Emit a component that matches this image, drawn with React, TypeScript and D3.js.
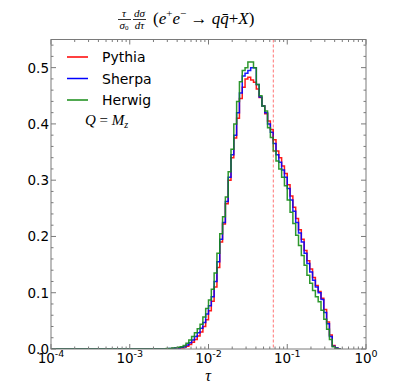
import * as d3 from 'd3';

// histogram binning: log10(tau) from -4 in steps of 1/28
const LOG_MIN = -4;
const BINS_PER_DECADE = 28;
const FIRST_BIN = 40;

// bin contents, starting at bin FIRST_BIN
const pythia = [
  0.000, 0.000, 0.000, 0.001, 0.001, 0.002, 0.002, 0.003, 0.005, 0.008,
  0.012, 0.017, 0.023, 0.030, 0.040, 0.052, 0.068, 0.085, 0.110, 0.145,
  0.190, 0.222, 0.258, 0.300, 0.340, 0.375, 0.410, 0.445, 0.465, 0.480,
  0.483, 0.478, 0.474, 0.462, 0.447, 0.432, 0.418, 0.405, 0.390, 0.372,
  0.352, 0.340, 0.325, 0.312, 0.292, 0.272, 0.252, 0.232, 0.212, 0.195,
  0.175, 0.157, 0.142, 0.127, 0.113, 0.102, 0.090, 0.070, 0.048, 0.025,
  0.006, 0.002, 0.000,
];
const sherpa = [
  0.000, 0.000, 0.001, 0.001, 0.002, 0.002, 0.003, 0.004, 0.007, 0.011,
  0.016, 0.022, 0.029, 0.037, 0.047, 0.062, 0.077, 0.093, 0.120, 0.155,
  0.195, 0.225, 0.262, 0.305, 0.345, 0.380, 0.420, 0.455, 0.485, 0.490,
  0.495, 0.500, 0.500, 0.470, 0.448, 0.432, 0.420, 0.400, 0.385, 0.365,
  0.345, 0.332, 0.318, 0.305, 0.285, 0.265, 0.245, 0.225, 0.206, 0.190,
  0.170, 0.152, 0.137, 0.122, 0.110, 0.100, 0.088, 0.065, 0.045, 0.022,
  0.005, 0.002, 0.000,
];
const herwig = [
  0.000, 0.001, 0.001, 0.002, 0.002, 0.003, 0.004, 0.006, 0.010, 0.016,
  0.022, 0.029, 0.036, 0.044, 0.057, 0.072, 0.087, 0.106, 0.135, 0.170,
  0.205, 0.235, 0.270, 0.315, 0.355, 0.400, 0.440, 0.475, 0.495, 0.500,
  0.510, 0.510, 0.500, 0.470, 0.450, 0.432, 0.423, 0.393, 0.376, 0.352,
  0.334, 0.320, 0.305, 0.290, 0.265, 0.243, 0.223, 0.202, 0.184, 0.166,
  0.149, 0.131, 0.117, 0.104, 0.093, 0.084, 0.069, 0.053, 0.035, 0.017,
  0.004, 0.001, 0.000,
];

const series = [
  { name: 'Pythia', color: '#ff0000', values: pythia },
  { name: 'Sherpa', color: '#0000ff', values: sherpa },
  { name: 'Herwig', color: '#178c17', values: herwig },
];

const xMajor = [-4, -3, -2, -1, 0];
const yMajor = [0, 0.1, 0.2, 0.3, 0.4, 0.5];
const TAU_CUT = 0.0665;

const W = 407;
const H = 389;
const left = 51, right = 366, top = 39.5, bottom = 349;

export default function App() {
  const x = d3.scaleLog().domain([1e-4, 1]).range([left, right]);
  const y = d3.scaleLinear().domain([0, 0.55]).range([bottom, top]);

  const edge = (i: number) => Math.pow(10, LOG_MIN + i / BINS_PER_DECADE);

  const stepPath = (values: number[]) => {
    const pts: [number, number][] = [[x(edge(0)), y(0)]];
    const last = FIRST_BIN + values.length;
    for (let i = 0; i < last; i++) {
      const v = i >= FIRST_BIN ? values[i - FIRST_BIN] : 0;
      pts.push([x(edge(i)), y(v)], [x(edge(i + 1)), y(v)]);
    }
    pts.push([x(edge(last)), y(0)]);
    return d3.line()(pts) || '';
  };

  // minor x ticks 2..9 x 10^n
  const xMinor: number[] = [];
  for (let e = -4; e < 0; e++) {
    for (let k = 2; k <= 9; k++) xMinor.push(k * Math.pow(10, e));
  }
  const yMinor = d3.range(0, 0.55, 0.02).filter(v => Math.abs(v * 10 - Math.round(v * 10)) > 1e-6);

  const frame = '#7a7a7a';
  const font = 'DejaVu Sans, sans-serif';
  const serif = 'Liberation Serif, DejaVu Serif, serif';

  return (
    <svg width={W} height={H} style={{ position: 'absolute', left: 0, top: 0, background: '#fff' }}>
      {/* title */}
      <g fontFamily={serif} fill="#000">
        <text x={124} y={17} fontSize={11} fontStyle="italic" textAnchor="middle">τ</text>
        <line x1={118} x2={131} y1={19.5} y2={19.5} stroke="#000" strokeWidth={0.8} />
        <text x={124} y={28.5} fontSize={11} textAnchor="middle">
          <tspan fontStyle="italic">σ</tspan>
          <tspan fontSize={7} dy={1.5}>0</tspan>
        </text>
        <text x={139.5} y={17} fontSize={11} fontStyle="italic" textAnchor="middle">dσ</text>
        <line x1={133} x2={146} y1={19.5} y2={19.5} stroke="#000" strokeWidth={0.8} />
        <text x={139.5} y={28.5} fontSize={11} fontStyle="italic" textAnchor="middle">dτ</text>
        <text x={153} y={24} fontSize={17}>
          <tspan>(</tspan>
          <tspan fontStyle="italic">e</tspan>
          <tspan fontSize={11} dy={-7}>+</tspan>
          <tspan fontStyle="italic" dy={7}>e</tspan>
          <tspan fontSize={11} dy={-7}>−</tspan>
          <tspan dy={7}> → </tspan>
          <tspan fontStyle="italic">qq̄</tspan>
          <tspan>+</tspan>
          <tspan fontStyle="italic">X</tspan>
          <tspan>)</tspan>
        </text>
      </g>

      <defs>
        <clipPath id="plot">
          <rect x={left} y={top} width={right - left} height={bottom - top} />
        </clipPath>
      </defs>

      {/* histograms */}
      <g clipPath="url(#plot)">
        {series.map(s => (
          <path key={s.name} d={stepPath(s.values)} fill="none" stroke={s.color}
            strokeWidth={1.5} strokeOpacity={0.9} strokeLinejoin="miter" />
        ))}
        <line x1={x(TAU_CUT)} x2={x(TAU_CUT)} y1={top} y2={bottom}
          stroke="#ff0000" strokeOpacity={0.55} strokeWidth={1} strokeDasharray="3,2" />
      </g>

      {/* frame */}
      <rect x={left} y={top} width={right - left} height={bottom - top} fill="none" stroke={frame} strokeWidth={1} />

      {/* x ticks */}
      <g stroke={frame} strokeWidth={1}>
        {xMajor.map(e => {
          const px = x(Math.pow(10, e));
          return (
            <g key={'xM' + e}>
              <line x1={px} x2={px} y1={bottom} y2={bottom - 5} />
              <line x1={px} x2={px} y1={top} y2={top + 5} />
            </g>
          );
        })}
        {xMinor.map(t => (
          <g key={'xm' + t}>
            <line x1={x(t)} x2={x(t)} y1={bottom} y2={bottom - 2.5} />
            <line x1={x(t)} x2={x(t)} y1={top} y2={top + 2.5} />
          </g>
        ))}
        {yMajor.map(v => (
          <g key={'yM' + v}>
            <line x1={left} x2={left + 5} y1={y(v)} y2={y(v)} />
            <line x1={right} x2={right - 5} y1={y(v)} y2={y(v)} />
          </g>
        ))}
        {yMinor.map(v => (
          <g key={'ym' + v}>
            <line x1={left} x2={left + 2.5} y1={y(v)} y2={y(v)} />
            <line x1={right} x2={right - 2.5} y1={y(v)} y2={y(v)} />
          </g>
        ))}
      </g>

      {/* tick labels */}
      <g fontFamily={font} fontSize={13.5} fill="#000">
        {yMajor.map(v => (
          <text key={'yl' + v} x={left - 2} y={y(v) + 5} textAnchor="end">{v.toFixed(1)}</text>
        ))}
        {xMajor.map(e => (
          <text key={'xl' + e} x={x(Math.pow(10, e))} y={363} textAnchor="middle">
            <tspan>10</tspan>
            <tspan fontSize={9.5} dy={-6}>{e < 0 ? '-' + Math.abs(e) : String(e)}</tspan>
          </text>
        ))}
      </g>

      {/* axis label */}
      <text x={208} y={381} fontFamily={serif} fontStyle="italic" fontSize={16} textAnchor="middle">τ</text>

      {/* legend */}
      <g fontFamily={font} fontSize={14}>
        {series.map((s, i) => {
          const ly = 57 + i * 21.5;
          return (
            <g key={'lg' + s.name}>
              <line x1={67} x2={88} y1={ly} y2={ly} stroke={s.color} strokeWidth={1.5} />
              <text x={102} y={ly + 5}>{s.name}</text>
            </g>
          );
        })}
      </g>
      <text x={85} y={125} fontFamily={serif} fontSize={15}>
        <tspan fontStyle="italic">Q</tspan>
        <tspan> = </tspan>
        <tspan fontStyle="italic">M</tspan>
        <tspan fontStyle="italic" fontSize={10} dy={3}>z</tspan>
      </text>
    </svg>
  );
}
